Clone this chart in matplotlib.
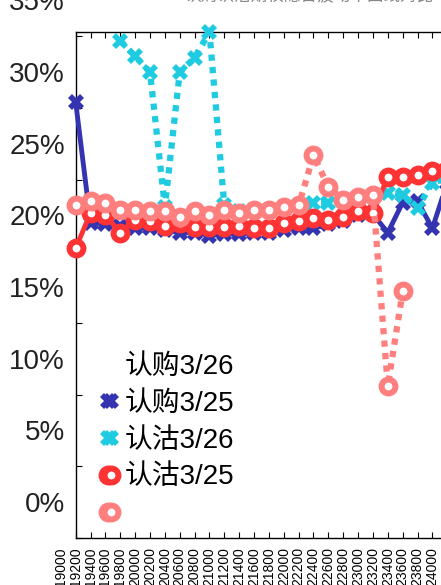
import numpy as np
import matplotlib
matplotlib.use('Agg')
import matplotlib.pyplot as plt
import matplotlib.transforms as mtransforms
from matplotlib.lines import Line2D

plt.rcParams['font.family'] = ['Liberation Sans', 'Noto Sans CJK SC', 'DejaVu Sans']

# strike prices (x) and implied vol in % for each series
strikes = [19200, 19400, 19600, 19800, 20000, 20200, 20400, 20600, 20800, 21000,
           21200, 21400, 21600, 21800, 22000, 22200, 22400, 22600, 22800, 23000,
           23200, 23400, 23600, 23800, 24000, 24200]
nan = np.nan
call_0325 = [28.1, 19.7, 19.6, 19.5, 19.3, 19.3, 19.2, 19.0, 19.0, 18.8,
             18.9, 18.9, 19.0, 19.0, 19.2, 19.3, 19.3, 19.6, 19.8, 20.2,
             20.3, 19.0, 21.1, 21.2, 19.3, 22.5]
put_0326 = [nan, nan, nan, 32.4, 31.3, 30.2, 20.8, 30.2, 31.2, 33.0,
            20.9, 20.5, 20.6, 20.6, 20.8, 20.9, 21.1, 21.1, 21.3, 21.4,
            21.5, 21.8, 21.6, 20.7, 22.5, 22.8]
put_0325 = [17.9, 20.4, 20.2, 19.0, 19.9, 19.8, 19.5, 19.7, 19.4, 19.4,
            19.4, 19.5, 19.3, 19.3, 19.7, 19.8, 20.0, 19.9, 20.1, 20.5,
            20.4, 22.9, 22.9, 23.0, 23.3, 23.4]
extra = [20.9, 21.2, 21.1, 20.6, 20.6, 20.5, 20.5, 20.1, 20.5, 20.2,
         20.6, 20.4, 20.6, 20.6, 20.8, 20.9, 24.4, 22.2, 21.3, 21.5,
         21.6, 8.3, 14.9, nan, nan, nan]

legend_labels = ['认购3/26', '认购3/25', '认沽3/26', '认沽3/25', '']
y_labels = [0, 5, 10, 15, 20, 25, 30, 35]
x_extra_label = 19000

fig = plt.figure(figsize=(4.41, 5.85), dpi=100)
ax = fig.add_axes([75.7/441, 47/585, 386.4/441, 506/585])

l1, = ax.plot(strikes, call_0325, color='#3434b0', lw=3.5, marker='X', ms=11,
              mew=0, clip_on=False, zorder=3)
l2, = ax.plot(strikes, put_0326, color='#1ecbe1', lw=4.5, ls=(0, (1, 1)), marker='X',
              ms=11, mew=0, clip_on=False, zorder=4)
l3, = ax.plot(strikes, put_0325, color='#ff3333', lw=3.5, marker='o', ms=10, mew=4.3,
              mfc='white', clip_on=False, zorder=5)
l4, = ax.plot(strikes, extra, color='#ff7f7f', lw=4.5, ls=(0, (1, 1)), marker='o',
              ms=10, mew=4.3, mfc='white', clip_on=False, zorder=6)

ax.set_xlim(19200, 24400)
ax.set_ylim(-2.3, 33.0)
for s in ax.spines.values():
    s.set_linewidth(1.0)

ax.set_xticks(strikes)
ax.set_xticklabels([str(s) for s in strikes], rotation=90, fontsize=10)
ax.set_yticks(np.array(y_labels) - 2.3)
ax.set_yticklabels([])
ax.tick_params(direction='in', length=4.3, width=0.8, top=True, right=True, pad=6.5)

# extra x label left of the axis
tr = mtransforms.blended_transform_factory(ax.transData, ax.transAxes)
ax.text(x_extra_label, 0, str(x_extra_label), rotation=90, fontsize=10, ha='center', va='top',
        transform=mtransforms.offset_copy(tr, fig=fig, y=-6.5, units='points'), clip_on=False)

# y labels (shifted relative to ticks, as in the source)
tr2 = mtransforms.blended_transform_factory(ax.transAxes, ax.transData)
for v in y_labels:
    ax.text(0, v, '%d%%' % v, fontsize=20, color='#222222', ha='right', va='center',
            transform=mtransforms.offset_copy(tr2, fig=fig, x=-7.7, units='points'),
            clip_on=False)

blank = Line2D([], [], ls='none')
ax.legend(handles=[blank, l1, l2, l3, l4], labels=legend_labels, loc='upper left',
          bbox_to_anchor=(100/441, 1 - 354/585), bbox_transform=fig.transFigure,
          frameon=False, fontsize=20, numpoints=2, handlelength=0.7, handletextpad=0.2,
          labelspacing=0.39, borderpad=0, borderaxespad=0)

fig.text(0.70, 1 - 4/585, '认购认沽期权隐含波动率曲线对比', ha='center', va='bottom',
         fontsize=12, color='#888888')

fig.savefig('out.png', dpi=100)
